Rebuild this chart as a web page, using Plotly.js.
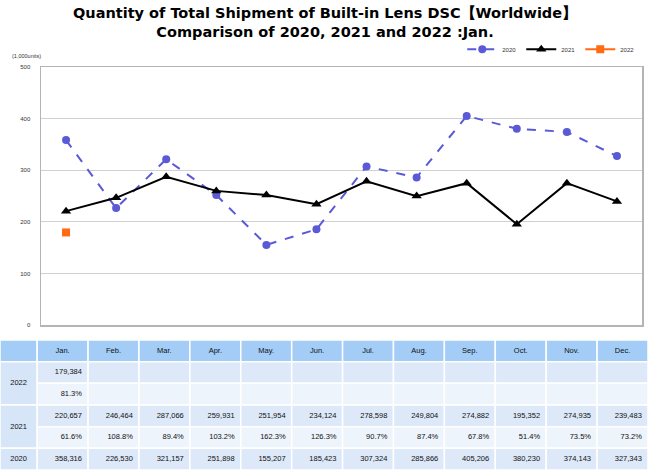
<!DOCTYPE html>
<html>
<head>
<meta charset="utf-8">
<script src="https://cdn.plot.ly/plotly-3.0.1.min.js"></script>
<style>html,body{margin:0;padding:0;background:#fff;}#chart{width:650px;height:470px;}</style>
</head>
<body>
<div id="chart"></div>
<script>
const months = ["Jan.","Feb.","Mar.","Apr.","May.","Jun.","Jul.","Aug.","Sep.","Oct.","Nov.","Dec."];
const v2020 = [358316,226530,321157,251898,155207,185423,307324,285866,405206,380230,374143,327343];
const v2021 = [220657,246464,287066,259931,251954,234124,278598,249804,274882,195352,274935,239483];
const v2022 = [179384];
const pct2021 = ["61.6%","108.8%","89.4%","103.2%","162.3%","126.3%","90.7%","87.4%","67.8%","51.4%","73.5%","73.2%"];
const pct2022 = ["81.3%"];
const yTicks = [0,100,200,300,400,500];

const fmt = n => n.toLocaleString('en-US');
const k = a => a.map(v => v/1000);

const traces = [
  {x: months, y: k(v2020), name: "2020", type: "scatter", mode: "lines+markers",
   line: {color: "#5a5ad6", width: 2, dash: "dash"}, marker: {symbol: "circle", size: 8, color: "#5a5ad6"},
   xaxis: "x", yaxis: "y"},
  {x: months, y: k(v2021), name: "2021", type: "scatter", mode: "lines+markers",
   line: {color: "#000000", width: 2}, marker: {symbol: "triangle-up", size: 9, color: "#000000"},
   xaxis: "x", yaxis: "y"},
  {x: months.slice(0, v2022.length), y: k(v2022), name: "2022", type: "scatter", mode: "lines+markers",
   line: {color: "#ff6a13", width: 2}, marker: {symbol: "square", size: 8, color: "#ff6a13"},
   xaxis: "x", yaxis: "y"}
];

// ---- Table (x2 / y2 in column / row units) ----
// rows from bottom: 0=2020, 1=2021 pct, 2=2021 val, 3=2022 pct, 4=2022 val, 5=header
const shapes = [];
const cell = (x0, x1, y0, y1, color) => shapes.push({type: "rect", xref: "x2", yref: "y2",
  x0: x0, x1: x1, y0: y0, y1: y1, fillcolor: color, line: {color: "#ffffff", width: 1.5}, layer: "below"});
const LBL = -0.73;
cell(LBL, 0, 5, 6, "#a3cdf7");
months.forEach((m, i) => cell(i, i + 1, 5, 6, "#a3cdf7"));
cell(LBL, 0, 3, 5, "#d6e5f8");
cell(LBL, 0, 1, 3, "#d6e5f8");
cell(LBL, 0, 0, 1, "#d6e5f8");
months.forEach((m, i) => {
  cell(i, i + 1, 4, 5, "#dde9f9");
  cell(i, i + 1, 3, 4, "#eef4fc");
  cell(i, i + 1, 2, 3, "#dde9f9");
  cell(i, i + 1, 1, 2, "#eef4fc");
  cell(i, i + 1, 0, 1, "#dde9f9");
});

const tfont = {family: "Liberation Sans, Arial, sans-serif", size: 7.5, color: "#111"};
const idx = months.map((m, i) => i);
const rightX = arr => arr.map((v, i) => i + 0.88);
traces.push({x: idx.map(i => i + 0.5), y: idx.map(() => 5.5), text: months, mode: "text", type: "scatter",
  textposition: "middle center", textfont: tfont, xaxis: "x2", yaxis: "y2", showlegend: false, hoverinfo: "skip"});
traces.push({x: [LBL/2, LBL/2, LBL/2], y: [4, 2, 0.5], text: ["2022", "2021", "2020"], mode: "text", type: "scatter",
  textposition: "middle center", textfont: tfont, xaxis: "x2", yaxis: "y2", showlegend: false, hoverinfo: "skip"});
const rowText = (vals, row) => ({x: rightX(vals), y: vals.map(() => row), text: vals, mode: "text", type: "scatter",
  textposition: "middle left", textfont: tfont, xaxis: "x2", yaxis: "y2", showlegend: false, hoverinfo: "skip"});
traces.push(rowText(v2022.map(fmt), 4.5));
traces.push(rowText(pct2022, 3.5));
traces.push(rowText(v2021.map(fmt), 2.5));
traces.push(rowText(pct2021, 1.5));
traces.push(rowText(v2020.map(fmt), 0.5));

const layout = {
  width: 650, height: 470,
  margin: {l: 0, r: 0, t: 0, b: 0},
  paper_bgcolor: "#ffffff", plot_bgcolor: "#ffffff",
  showlegend: true,
  legend: {orientation: "h", x: 0.985, xanchor: "right", y: 0.895, yanchor: "middle",
    font: {family: "Liberation Sans, Arial, sans-serif", size: 6, color: "#333"}, bgcolor: "rgba(0,0,0,0)",
    itemwidth: 30, tracegroupgap: 0},
  xaxis: {domain: [41/650, 642/650], type: "category", range: [-0.5, 11.5], showticklabels: false,
    showgrid: false, zeroline: false, showline: true, mirror: true, linecolor: "#b4b4b4", linewidth: 1.5,
    ticks: "", fixedrange: true},
  yaxis: {domain: [(470-325)/470, (470-67)/470], range: [0, 500], tickvals: yTicks,
    ticktext: yTicks.map(String), showgrid: true, gridcolor: "#d0d0d0", gridwidth: 1, zeroline: false,
    showline: true, mirror: true, linecolor: "#b4b4b4", linewidth: 1.5, ticks: "", ticklabelstandoff: 8,
    tickfont: {family: "Liberation Sans, Arial, sans-serif", size: 6, color: "#333"}},
  xaxis2: {domain: [0, 648/650], range: [LBL, 12], visible: false, fixedrange: true},
  yaxis2: {domain: [0, 130/470], range: [0, 6], visible: false, fixedrange: true},
  shapes: shapes,
  annotations: [
    {text: "Quantity of Total Shipment of Built-in Lens DSC【Worldwide】<br>Comparison of 2020, 2021 and 2022 :Jan.",
     xref: "paper", yref: "paper", x: 0.5, y: 1 - 3/470, yanchor: "top", xanchor: "center", showarrow: false,
     font: {family: "DejaVu Sans, Verdana, sans-serif", size: 14.5, color: "#000", weight: "bold"}},
    {text: "(1,000units)", xref: "paper", yref: "paper", x: 10/650, xanchor: "left", y: (470-56)/470, yanchor: "middle",
     showarrow: false, font: {family: "Liberation Sans, Arial, sans-serif", size: 5.5, color: "#333"}}
  ]
};

Plotly.newPlot("chart", traces, layout, {displayModeBar: false, staticPlot: true});
</script>
</body>
</html>
